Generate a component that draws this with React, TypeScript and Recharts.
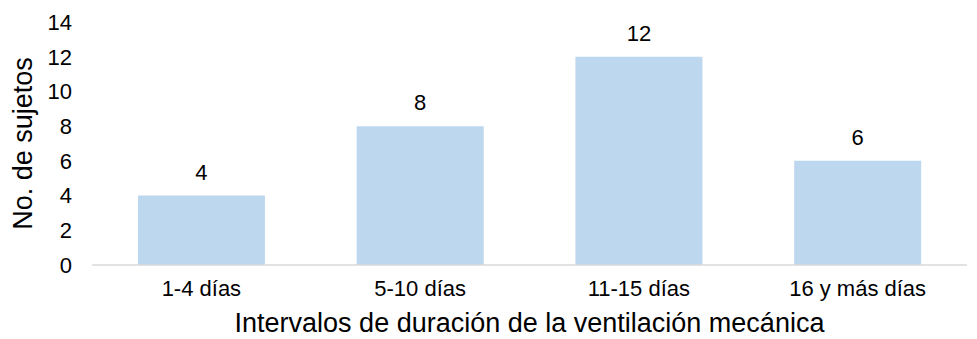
import { Bar, BarChart, LabelList, XAxis, YAxis } from "recharts";

const categories = ["1-4 días", "5-10 días", "11-15 días", "16 y más días"];
const subjects = [4, 8, 12, 6];
const yTicks = [0, 2, 4, 6, 8, 10, 12, 14];

const data = categories.map((name, i) => ({ name, value: subjects[i] }));

const font = "'Liberation Sans', Arial, sans-serif";

export default function App() {
  return (
    <div style={{ position: "absolute", left: 0, top: 0, background: "#fff", fontFamily: font }}>
      <BarChart
        width={977}
        height={339}
        data={data}
        margin={{ top: 22, right: 10, bottom: 0, left: 0 }}
        barCategoryGap="21%"
      >
        <XAxis
          dataKey="name"
          height={74}
          axisLine={{ stroke: "#D9D9D9", strokeWidth: 1.5 }}
          tickLine={false}
          tick={{ fill: "#000", fontSize: 22, fontFamily: font }}
          tickMargin={9}
          label={{
            value: "Intervalos de duración de la ventilación mecánica",
            position: "insideBottom",
            offset: 7,
            fill: "#000",
            fontSize: 27,
            fontFamily: font,
          }}
        />
        <YAxis
          width={92}
          domain={[0, 14]}
          ticks={yTicks}
          axisLine={false}
          tickLine={false}
          tickMargin={14}
          interval={0}
          tick={{ fill: "#000", fontSize: 22, fontFamily: font }}
          label={{
            value: "No. de sujetos",
            angle: -90,
            position: "insideLeft",
            offset: 22,
            style: { textAnchor: "middle" },
            fill: "#000",
            fontSize: 27,
            fontFamily: font,
          }}
        />
        <Bar dataKey="value" fill="#BDD7EE" isAnimationActive={false}>
          <LabelList
            dataKey="value"
            position="top"
            offset={16}
            fill="#000"
            fontSize={22}
            fontFamily={font}
          />
        </Bar>
      </BarChart>
    </div>
  );
}
